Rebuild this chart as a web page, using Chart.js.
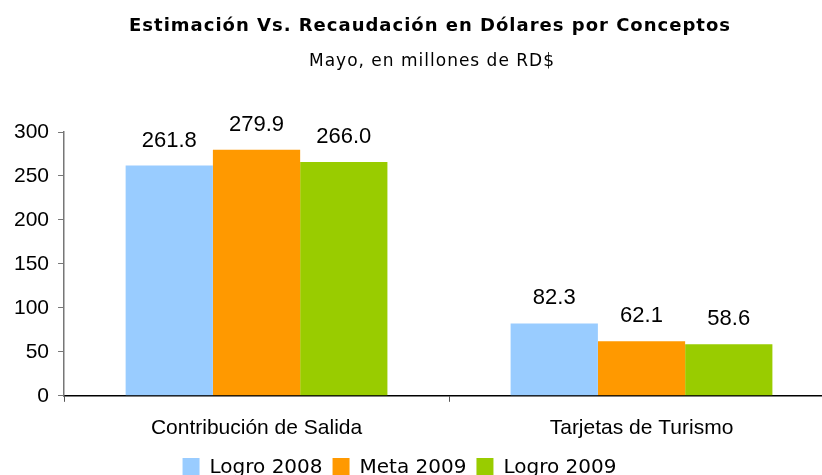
<!DOCTYPE html>
<html>
<head>
<meta charset="utf-8">
<script src="https://cdn.jsdelivr.net/npm/chart.js@4"></script>
<style>
    html, body { margin: 0; padding: 0; background: #fff; overflow: hidden; }
    #wrap { width: 836px; height: 475px; position: relative; }
</style>
</head>
<body>
<div id="wrap"><canvas id="myChart"></canvas></div>
<script>
    const categories = ['Contribución de Salida', 'Tarjetas de Turismo'];
    const seriesNames = ['Logro 2008', 'Meta 2009', 'Logro 2009'];
    const logro2008 = [261.8, 82.3];
    const meta2009 = [279.9, 62.1];
    const logro2009 = [266.0, 58.6];
    const yTicks = [0, 50, 100, 150, 200, 250, 300];
    const titleText = 'Estimación Vs. Recaudación en Dólares por Conceptos';
    const subtitleText = 'Mayo, en millones de RD$';

    const colors = ['#99CCFF', '#FF9900', '#99CC00'];

    // Title and subtitle, drawn ourselves so they can sit off-centre like the original
    const headerPlugin = {
        id: 'header',
        afterDraw(chart) {
            const ctx = chart.ctx;
            ctx.save();
            ctx.fillStyle = '#000';
            ctx.textAlign = 'center';
            ctx.textBaseline = 'alphabetic';
            ctx.font = 'bold 18px "DejaVu Sans", sans-serif';
            ctx.letterSpacing = '1px';
            ctx.fillText(titleText, 430, 31);
            ctx.font = '17px "DejaVu Sans", sans-serif';
            ctx.letterSpacing = '1px';
            ctx.fillText(subtitleText, 432, 66);
            ctx.restore();
        }
    };

    // legend in the original sits a little left of centre and runs off the bottom
    const legendShift = {
        id: 'legendShift',
        afterLayout(chart) {
            chart.legend.left -= 20;
            chart.legend.right -= 20;
            chart.legend.top -= 7;
            chart.legend.bottom -= 7;
        }
    };

    // value labels above each bar
    const valueLabels = {
        id: 'valueLabels',
        afterDatasetsDraw(chart) {
            const ctx = chart.ctx;
            ctx.save();
            ctx.fillStyle = '#000';
            ctx.font = '22px "Liberation Sans", Arial, sans-serif';
            ctx.textAlign = 'center';
            ctx.textBaseline = 'alphabetic';
            chart.data.datasets.forEach((ds, i) => {
                chart.getDatasetMeta(i).data.forEach((bar, j) => {
                    ctx.fillText(ds.data[j].toFixed(1), bar.x, bar.y - 19);
                });
            });
            ctx.restore();
        }
    };

    const ctx = document.getElementById('myChart');
    new Chart(ctx, {
        type: 'bar',
        data: {
            labels: categories,
            datasets: [
                { label: seriesNames[0], data: logro2008, backgroundColor: colors[0] },
                { label: seriesNames[1], data: meta2009, backgroundColor: colors[1] },
                { label: seriesNames[2], data: logro2009, backgroundColor: colors[2] }
            ]
        },
        options: {
            responsive: true,
            maintainAspectRatio: false,
            animation: false,
            datasets: {
                bar: { categoryPercentage: 0.68, barPercentage: 1.0 }
            },
            layout: {
                padding: { top: 132, left: 5, right: 2, bottom: -20 }
            },
            plugins: {
                tooltip: { enabled: false },
                title: { display: false },
                legend: {
                    position: 'bottom',
                    labels: {
                        color: '#000',
                        font: { family: '"DejaVu Sans", sans-serif', size: 20 },
                        boxWidth: 17,
                        boxHeight: 20,
                        padding: 10
                    }
                }
            },
            scales: {
                x: {
                    grid: {
                        display: true,
                        drawOnChartArea: false,
                        color: '#555',
                        tickLength: 6,
                        offset: true
                    },
                    border: { color: '#000', width: 1.5 },
                    ticks: {
                        color: '#000',
                        font: { family: '"Liberation Sans", Arial, sans-serif', size: 21 },
                        padding: 14
                    }
                },
                y: {
                    min: 0,
                    max: 300,
                    afterBuildTicks(scale) {
                        scale.ticks = yTicks.map(v => ({ value: v }));
                    },
                    grid: {
                        display: true,
                        drawOnChartArea: false,
                        color: '#777',
                        tickLength: 6
                    },
                    border: { color: '#777', width: 1.5 },
                    ticks: {
                        color: '#000',
                        font: { family: '"Liberation Sans", Arial, sans-serif', size: 21 },
                        padding: 9
                    }
                }
            }
        },
        plugins: [headerPlugin, valueLabels, legendShift]
    });
</script>
</body>
</html>
